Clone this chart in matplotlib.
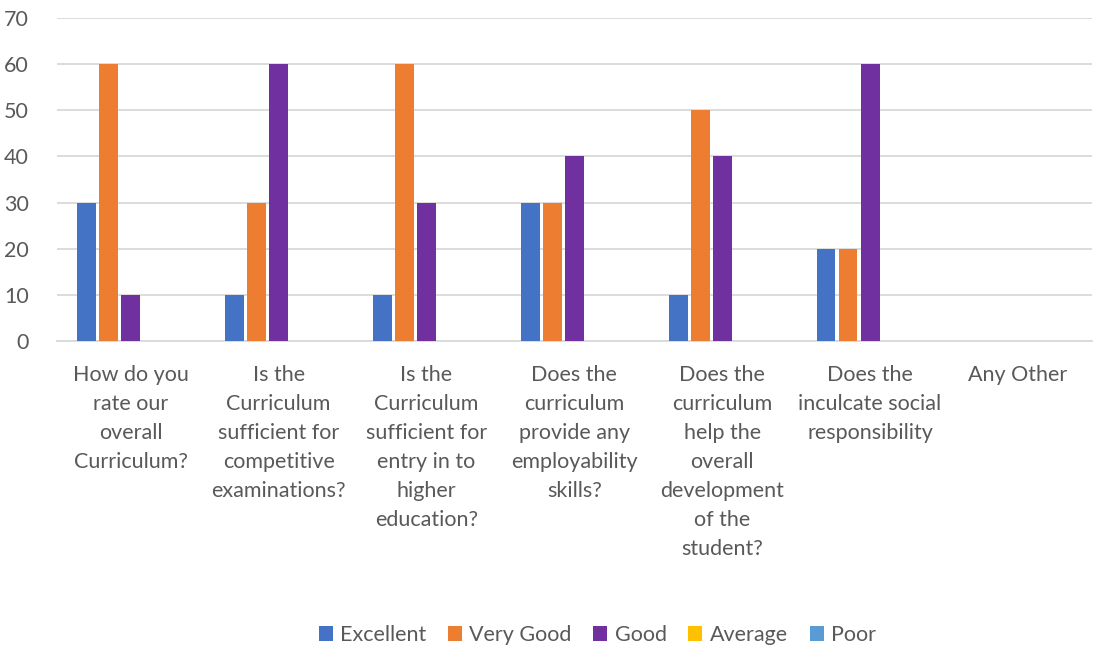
import numpy as np
import matplotlib.pyplot as plt
import matplotlib as mpl

plt.rcParams['font.family'] = ['Lato', 'DejaVu Sans']
plt.rcParams['font.size'] = 15.5

categories = [
    "How do you\nrate our\noverall\nCurriculum?",
    "Is the\nCurriculum\nsufficient for\ncompetitive\nexaminations?",
    "Is the\nCurriculum\nsufficient for\nentry in to\nhigher\neducation?",
    "Does the\ncurriculum\nprovide any\nemployability\nskills?",
    "Does the\ncurriculum\nhelp the\noverall\ndevelopment\nof the\nstudent?",
    "Does the\ninculcate social\nresponsibility",
    "Any Other",
]
excellent = [30, 10, 10, 30, 10, 20, 0]
very_good = [60, 30, 60, 30, 50, 20, 0]
good = [10, 60, 30, 40, 40, 60, 0]
average = [0, 0, 0, 0, 0, 0, 0]
poor = [0, 0, 0, 0, 0, 0, 0]

series = [excellent, very_good, good, average, poor]
names = ["Excellent", "Very Good", "Good", "Average", "Poor"]
colors = ["#4472C4", "#ED7D31", "#7030A0", "#FFC000", "#5B9BD5"]

text_col = "#595959"
grid_col = "#D9D9D9"

fig = plt.figure(figsize=(10.94, 6.5), dpi=100)
ax = fig.add_axes([0.052, 0.4754, 0.946, 0.4969])

x = np.arange(len(categories))
step = 0.149
width = 0.128
for i, (vals, name, col) in enumerate(zip(series, names, colors)):
    ax.bar(x + (i - 2) * step, vals, width, color=col, label=name, zorder=3)

ax.set_xlim(-0.5, len(categories) - 0.5)
ax.set_ylim(0, 70)
ax.set_yticks(range(0, 71, 10))
ax.yaxis.grid(True, color=grid_col, linewidth=1.3, zorder=0)
for s in ['top', 'right', 'left']:
    ax.spines[s].set_visible(False)
ax.spines['bottom'].set_color(grid_col)
ax.spines['bottom'].set_linewidth(1.3)
ax.tick_params(axis='both', length=0, colors=text_col, labelsize=15.5)
ax.tick_params(axis='x', pad=17)
ax.tick_params(axis='y', pad=20)
ax.set_xticks(x)
ax.set_xticklabels(categories, linespacing=1.57, va='top')

leg = fig.legend(loc='center', bbox_to_anchor=(0.546, 0.023), ncol=5, frameon=False,
                 handlelength=0.65, handleheight=0.65, handletextpad=0.35, columnspacing=1.0,
                 fontsize=15.5)
for t in leg.get_texts():
    t.set_color(text_col)

plt.savefig("out.png", dpi=100)
